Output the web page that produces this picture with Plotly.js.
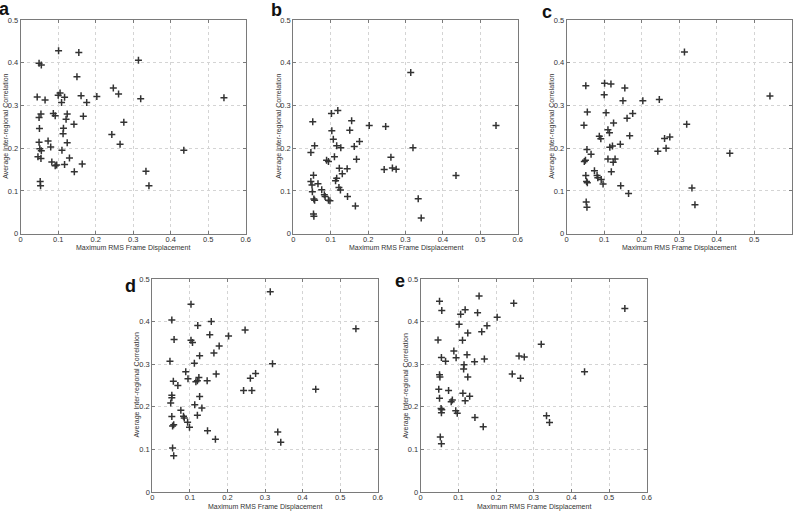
<!DOCTYPE html>
<html>
<head>
<meta charset="utf-8">
<script src="https://cdn.plot.ly/plotly-3.0.1.min.js"></script>
<style>html,body{margin:0;padding:0;background:#fff;}#chart{width:796px;height:511px;}</style>
</head>
<body>
<div id="chart"></div>
<script>
// ---- data ----
const panelLetters = ["a", "b", "c", "d", "e"];
const xTitle = "Maximum RMS Frame Displacement";
const yTitle = "Average Inter-regional Correlation";
const xTickVals = [0, 0.1, 0.2, 0.3, 0.4, 0.5, 0.6];
const yTickVals = [0, 0.1, 0.2, 0.3, 0.4, 0.5];

const xA = [0.101,0.155,0.049,0.055,0.314,0.150,0.247,0.261,0.320,0.542,0.203,0.161,0.044,0.065,0.100,0.105,0.117,0.109,0.176,0.054,0.049,0.087,0.092,0.124,0.121,0.167,0.275,0.142,0.114,0.050,0.113,0.243,0.073,0.049,0.124,0.265,0.080,0.051,0.055,0.110,0.435,0.046,0.054,0.130,0.083,0.096,0.092,0.117,0.164,0.143,0.334,0.052,0.053,0.342];
const yA = [0.428,0.424,0.399,0.395,0.406,0.367,0.341,0.327,0.316,0.318,0.321,0.323,0.320,0.313,0.324,0.329,0.319,0.307,0.307,0.280,0.272,0.281,0.276,0.280,0.268,0.275,0.261,0.256,0.247,0.246,0.234,0.232,0.217,0.214,0.213,0.209,0.203,0.199,0.194,0.195,0.195,0.180,0.176,0.177,0.168,0.161,0.159,0.162,0.163,0.145,0.146,0.122,0.112,0.112];

const xB = [0.314,0.203,0.247,0.542,0.320,0.261,0.265,0.243,0.275,0.435,0.334,0.342,0.119,0.102,0.052,0.156,0.103,0.151,0.177,0.107,0.057,0.116,0.127,0.163,0.047,0.089,0.094,0.110,0.169,0.123,0.144,0.131,0.116,0.113,0.054,0.047,0.050,0.066,0.076,0.122,0.126,0.051,0.083,0.085,0.055,0.057,0.094,0.098,0.145,0.166,0.054,0.055];
const yB = [0.377,0.253,0.251,0.253,0.201,0.179,0.154,0.150,0.151,0.136,0.082,0.037,0.288,0.281,0.262,0.264,0.241,0.242,0.216,0.221,0.206,0.206,0.201,0.204,0.190,0.172,0.169,0.180,0.174,0.153,0.152,0.140,0.130,0.124,0.137,0.122,0.114,0.117,0.103,0.108,0.102,0.098,0.091,0.087,0.081,0.078,0.078,0.077,0.087,0.065,0.046,0.041];

const xC = [0.314,0.203,0.247,0.542,0.320,0.243,0.261,0.275,0.265,0.334,0.342,0.435,0.051,0.101,0.118,0.155,0.100,0.150,0.055,0.105,0.176,0.161,0.125,0.046,0.110,0.114,0.087,0.091,0.168,0.143,0.115,0.122,0.054,0.065,0.110,0.129,0.124,0.050,0.047,0.119,0.074,0.051,0.081,0.083,0.092,0.097,0.053,0.055,0.144,0.165,0.052,0.054];
const yC = [0.425,0.311,0.314,0.322,0.256,0.193,0.223,0.226,0.200,0.107,0.068,0.188,0.346,0.352,0.350,0.341,0.325,0.311,0.285,0.283,0.281,0.270,0.259,0.254,0.243,0.236,0.228,0.222,0.229,0.209,0.202,0.205,0.197,0.186,0.175,0.175,0.167,0.172,0.169,0.145,0.147,0.136,0.136,0.131,0.127,0.116,0.122,0.119,0.112,0.094,0.074,0.062];

const xD = [0.203,0.243,0.247,0.261,0.265,0.275,0.314,0.320,0.334,0.342,0.435,0.542,0.103,0.052,0.157,0.121,0.153,0.058,0.103,0.107,0.178,0.164,0.126,0.047,0.112,0.089,0.170,0.095,0.124,0.120,0.116,0.146,0.056,0.068,0.052,0.052,0.126,0.049,0.113,0.132,0.076,0.083,0.085,0.052,0.120,0.094,0.057,0.054,0.099,0.147,0.168,0.054,0.057];
const yD = [0.366,0.238,0.380,0.267,0.238,0.278,0.470,0.301,0.141,0.117,0.241,0.383,0.441,0.404,0.400,0.391,0.369,0.358,0.356,0.351,0.343,0.326,0.320,0.307,0.302,0.282,0.277,0.266,0.269,0.261,0.259,0.261,0.260,0.250,0.227,0.221,0.224,0.209,0.205,0.197,0.192,0.178,0.174,0.177,0.180,0.164,0.158,0.155,0.152,0.144,0.124,0.103,0.085];

const xE = [0.203,0.243,0.247,0.261,0.265,0.275,0.320,0.334,0.342,0.435,0.542,0.155,0.050,0.056,0.118,0.106,0.151,0.102,0.176,0.162,0.125,0.046,0.111,0.088,0.123,0.055,0.094,0.169,0.066,0.143,0.115,0.114,0.050,0.051,0.125,0.048,0.074,0.112,0.130,0.050,0.084,0.081,0.118,0.054,0.056,0.055,0.093,0.097,0.144,0.166,0.052,0.055];
const yE = [0.410,0.277,0.443,0.319,0.267,0.317,0.347,0.179,0.163,0.282,0.431,0.460,0.448,0.426,0.428,0.417,0.421,0.394,0.390,0.376,0.373,0.357,0.356,0.331,0.322,0.316,0.315,0.312,0.307,0.306,0.299,0.289,0.275,0.270,0.270,0.241,0.238,0.232,0.225,0.220,0.216,0.212,0.214,0.196,0.193,0.186,0.191,0.185,0.175,0.153,0.129,0.113];

const seriesX = [xA, xB, xC, xD, xE];
const seriesY = [yA, yB, yC, yD, yE];

// ---- layout geometry (pixels in a 796x511 figure) ----
const W = 796, H = 511;
const boxes = [
  {x0: 20.7, x1: 245.7, y0: 20, y1: 233.7, ytx: 6,   lx: 4.5, ly: 9.3},
  {x0: 293.3, x1: 517.7, y0: 20, y1: 233.7, ytx: 279, lx: 276.3, ly: 9.5},
  {x0: 566.7, x1: 791.7, y0: 20, y1: 233.7, ytx: 552, lx: 547, ly: 12},
  {x0: 152.3, x1: 377.7, y0: 279, y1: 492, ytx: 136, lx: 130, ly: 285.5},
  {x0: 420.7, x1: 646.7, y0: 279, y1: 492, ytx: 405, lx: 400, ly: 280.5}
];
const px = v => v / W;
const py = v => 1 - v / H;

const FONT = "Liberation Sans, Arial, sans-serif";
const traces = [];
const layout = {
  width: W, height: H,
  margin: {l: 0, r: 0, t: 0, b: 0},
  paper_bgcolor: "#fff", plot_bgcolor: "#fff",
  showlegend: false,
  font: {family: FONT, size: 8, color: "#333"},
  annotations: []
};

boxes.forEach((b, i) => {
  const n = i === 0 ? "" : String(i + 1);
  traces.push({
    type: "scatter", mode: "markers",
    x: seriesX[i], y: seriesY[i],
    xaxis: "x" + n, yaxis: "y" + n,
    marker: {symbol: "cross-thin", size: 5, color: "#333", line: {width: 1.5, color: "#333"}},
    cliponaxis: true, hoverinfo: "x+y"
  });
  const common = {
    showline: true, mirror: "ticks", linecolor: "#7a7a7a", linewidth: 1,
    ticks: "inside", ticklen: 3, tickcolor: "#7a7a7a",
    showgrid: true, gridcolor: "#d4d4d4", griddash: "dot", gridwidth: 1,
    zeroline: false, tickfont: {family: FONT, size: 7.5, color: "#333"},
    fixedrange: true
  };
  layout["xaxis" + n] = Object.assign({}, common, {
    domain: [px(b.x0), px(b.x1)], anchor: "y" + n,
    range: [0, 0.6], tickvals: xTickVals, ticktext: xTickVals.map(String),
    ticklabelstandoff: -2
  });
  layout["yaxis" + n] = Object.assign({}, common, {
    domain: [py(b.y1), py(b.y0)], anchor: "x" + n,
    range: [0, 0.5], tickvals: yTickVals, ticktext: yTickVals.map(String)
  });
  layout.annotations.push({
    xref: "paper", yref: "paper", showarrow: false,
    x: px((b.x0 + b.x1) / 2), y: py(b.y1 + 14.5), xanchor: "center", yanchor: "middle",
    text: xTitle, font: {family: FONT, size: 7, color: "#333"}
  });
  layout.annotations.push({
    xref: "paper", yref: "paper", showarrow: false, textangle: -90,
    x: px(b.ytx), y: py((b.y0 + b.y1) / 2), xanchor: "center", yanchor: "middle",
    text: yTitle, font: {family: FONT, size: 7, color: "#333"}
  });
  layout.annotations.push({
    xref: "paper", yref: "paper", showarrow: false,
    x: px(b.lx), y: py(b.ly), xanchor: "center", yanchor: "middle",
    text: "<b>" + panelLetters[i] + "</b>", font: {family: FONT, size: 18, color: "#111"}
  });
});

Plotly.newPlot("chart", traces, layout, {displayModeBar: false, staticPlot: true});
</script>
</body>
</html>
